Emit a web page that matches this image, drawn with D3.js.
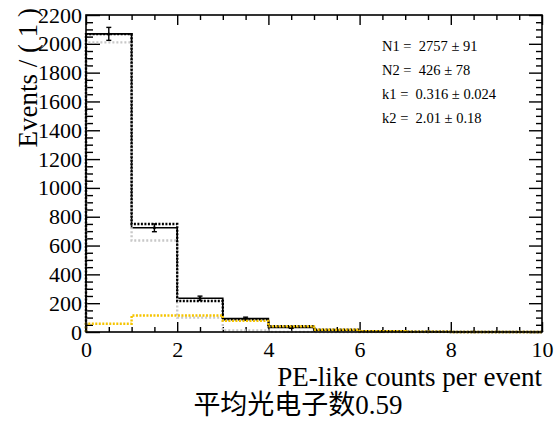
<!DOCTYPE html>
<html>
<head>
<meta charset="utf-8">
<script src="https://cdn.jsdelivr.net/npm/d3@7"></script>
<style>
  body { margin: 0; background: #fff; }
  .axis path.domain { display: none; }
  .axis line { stroke: #000; stroke-width: 1.4; }
</style>
</head>
<body>
<svg id="chart" width="557" height="425"></svg>
<script>
// bin lower edges (width 1)
const binEdges = [0, 1, 2, 3, 4, 5, 6, 7, 8, 9]
// observed counts (solid histogram + points)
const dataCounts = [2069, 723, 234, 93, 31, 10, 5, 2, 1, 0]
const dataErrors = [45, 27, 15, 10, 5.5, 3, 2.2, 1.4, 1, 0]
// fit total (dotted black), component 1 (grey), component 2 (yellow)
const fitTotal = [2067, 750, 215, 88, 40, 16, 5.2, 1.5, 0.4, 0.1]
const fitComp1 = [2010, 635, 100, 10.6, 0.8, 0.05, 0, 0, 0, 0]
const fitComp2 = [57, 115, 115, 77, 39, 15.6, 5.2, 1.5, 0.4, 0.1]
const fitParams = ['N1 =  2757 ± 91', 'N2 =  426 ± 78', 'k1 =  0.316 ± 0.024', 'k2 =  2.01 ± 0.18']
const xLabel = 'PE-like counts per event'
const yLabel = 'Events / ( 1 )'
const title = '平均光电子数0.59'

const serif = '"Liberation Serif", serif'
const svg = d3.select('#chart')
const frame = { left: 86, right: 542, top: 15, bottom: 332 }

const x = d3.scaleLinear().domain([0, 10]).range([frame.left, frame.right])
const y = d3.scaleLinear().domain([0, 2200]).range([frame.bottom, frame.top])

const xMajor = d3.range(0, 10.01, 2)
const xMinor = d3.range(0, 10.01, 0.5).filter(v => v % 2 !== 0)
const yMajor = d3.range(0, 2200.1, 200)
const yMinor = d3.range(0, 2200.1, 50).filter(v => v % 200 !== 0)

// axes, ticks pointing inward
const axisG = t => svg.append('g').attr('class', 'axis').attr('transform', t)
axisG(`translate(0,${frame.bottom})`)
  .call(d3.axisBottom(x).tickValues(xMajor).tickSize(-10).tickPadding(9).tickFormat(d3.format('d')))
axisG(`translate(0,${frame.bottom})`)
  .call(d3.axisBottom(x).tickValues(xMinor).tickSize(-5).tickFormat(''))
axisG(`translate(0,${frame.top})`)
  .call(d3.axisTop(x).tickValues(xMajor).tickSize(-10).tickFormat(''))
axisG(`translate(0,${frame.top})`)
  .call(d3.axisTop(x).tickValues(xMinor).tickSize(-5).tickFormat(''))

axisG(`translate(${frame.left},0)`)
  .call(d3.axisLeft(y).tickValues(yMajor).tickSize(-14).tickPadding(4).tickFormat(d3.format('d')))
axisG(`translate(${frame.left},0)`)
  .call(d3.axisLeft(y).tickValues(yMinor).tickSize(-7).tickFormat(''))
axisG(`translate(${frame.right},0)`)
  .call(d3.axisRight(y).tickValues(yMajor).tickSize(-13).tickFormat(''))
axisG(`translate(${frame.right},0)`)
  .call(d3.axisRight(y).tickValues(yMinor).tickSize(-6).tickFormat(''))

svg.selectAll('.axis').attr('font-family', null)
svg.selectAll('.axis text').style('font-family', serif).style('font-size', '22px').attr('fill', '#000')

const steps = vals => {
  const pts = [[0, 0]]
  vals.forEach((v, i) => pts.push([binEdges[i], v]))
  pts.push([10, vals[vals.length - 1]], [10, 0])
  return pts
}
const stepLine = d3.line().x(d => x(d[0])).y(d => y(d[1])).curve(d3.curveStepAfter)

const plot = svg.append('g')

// solid data histogram
plot.append('path').datum(steps(dataCounts)).attr('d', stepLine)
  .attr('fill', 'none').attr('stroke', '#000').attr('stroke-width', 1.6)

// data points with error bars
const pts = plot.selectAll('.pt').data(dataCounts.map((c, i) => ({ c, e: dataErrors[i], x: binEdges[i] + 0.5 })))
  .join('g').attr('class', 'pt')
pts.filter(d => d.c > 0).append('line')
  .attr('x1', d => x(d.x)).attr('x2', d => x(d.x))
  .attr('y1', d => y(d.c - d.e)).attr('y2', d => y(d.c + d.e))
  .attr('stroke', '#000').attr('stroke-width', 1.4)
pts.filter(d => d.e >= 3).selectAll('.cap').data(d => [[d.x, d.c - d.e], [d.x, d.c + d.e]])
  .join('line')
  .attr('x1', d => x(d[0]) - 2.5).attr('x2', d => x(d[0]) + 2.5)
  .attr('y1', d => y(d[1])).attr('y2', d => y(d[1]))
  .attr('stroke', '#000').attr('stroke-width', 1.4)
pts.filter(d => d.c > 0).append('circle')
  .attr('cx', d => x(d.x)).attr('cy', d => y(d.c)).attr('r', 1.5).attr('fill', '#000')

// fit curves, dotted
plot.append('path').datum(steps(fitComp1)).attr('d', stepLine)
  .attr('fill', 'none').attr('stroke', '#c8c8c8').attr('stroke-width', 2.4).attr('stroke-dasharray', '2,2')
plot.append('path').datum(steps(fitTotal)).attr('d', stepLine)
  .attr('fill', 'none').attr('stroke', '#000').attr('stroke-width', 2.4).attr('stroke-dasharray', '2,1.5')
plot.append('path').datum(steps(fitComp2)).attr('d', stepLine)
  .attr('fill', 'none').attr('stroke', '#f5c400').attr('stroke-width', 2.4).attr('stroke-dasharray', '2,1.5')

// frame
svg.append('rect').attr('x', frame.left).attr('y', frame.top)
  .attr('width', frame.right - frame.left).attr('height', frame.bottom - frame.top)
  .attr('fill', 'none').attr('stroke', '#000').attr('stroke-width', 1.6)

// fit parameter text
svg.append('g').selectAll('text').data(fitParams).join('text')
  .attr('x', 382).attr('y', (d, i) => 50.5 + i * 24.2)
  .style('font-family', serif).style('font-size', '14.5px').style('white-space', 'pre')
  .text(d => d)

// axis titles
svg.append('text').attr('x', frame.right).attr('y', 386).attr('text-anchor', 'end')
  .style('font-family', serif).style('font-size', '27px').text(xLabel)
svg.append('text').attr('transform', `translate(37,${frame.top - 7}) rotate(-90)`)
  .attr('text-anchor', 'end').style('font-family', serif).style('font-size', '27px').text(yLabel)

svg.append('text').attr('x', 298).attr('y', 414).attr('text-anchor', 'middle')
  .style('font-family', '"Liberation Serif", "Noto Sans CJK SC", sans-serif').style('font-size', '27px').text(title)
</script>
</body>
</html>
